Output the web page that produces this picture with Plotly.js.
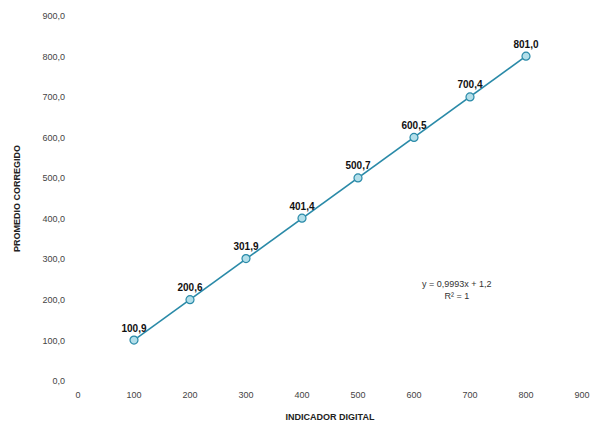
<!DOCTYPE html>
<html><head><meta charset="utf-8">
<script src="https://cdn.plot.ly/plotly-3.0.1.min.js"></script>
<style>html,body{margin:0;padding:0;background:#fff}#c{width:592px;height:430px}</style>
</head><body><div id="c"></div>
<script>
const indicador = [100, 200, 300, 400, 500, 600, 700, 800];
const promedio = [100.9, 200.6, 301.9, 401.4, 500.7, 600.5, 700.4, 801.0];
const pointLabels = ["100,9", "200,6", "301,9", "401,4", "500,7", "600,5", "700,4", "801,0"];
const yTickVals = [0, 100, 200, 300, 400, 500, 600, 700, 800, 900];
const yTickText = ["0,0", "100,0", "200,0", "300,0", "400,0", "500,0", "600,0", "700,0", "800,0", "900,0"];
const xTickVals = [0, 100, 200, 300, 400, 500, 600, 700, 800, 900];
const equationText = "y = 0,9993x + 1,2<br>R² = 1";
const equationPos = [677, 224];

const font = "Liberation Sans, Arial, sans-serif";
const trace = {
  x: indicador, y: promedio, type: "scatter", mode: "lines+markers+text",
  text: pointLabels.map(t => "<b>" + t + "</b>"), textposition: "top center",
  textfont: {family: font, size: 10, color: "#111"},
  line: {color: "#2a8aa8", width: 1.6},
  marker: {symbol: "circle", size: 8, color: "#b3dfea", line: {color: "#2a8aa8", width: 1.2}},
  cliponaxis: false, hoverinfo: "none"
};
const layout = {
  width: 592, height: 430,
  margin: {l: 78, r: 10, t: 16, b: 49},
  paper_bgcolor: "#fff", plot_bgcolor: "#fff",
  showlegend: false,
  font: {family: font, size: 9, color: "#333"},
  xaxis: {range: [0, 900], tickvals: xTickVals, showgrid: false, zeroline: false, showline: false,
    ticks: "", ticklabelstandoff: 7, tickfont: {size: 9, color: "#444"},
    title: {text: "<b>INDICADOR DIGITAL</b>", font: {size: 9, color: "#222"}, standoff: 14}},
  yaxis: {range: [0, 900], tickvals: yTickVals, ticktext: yTickText, showgrid: false, zeroline: false, showline: false,
    ticks: "", ticklabelstandoff: 12, tickfont: {size: 9, color: "#444"},
    title: {text: "<b>PROMEDIO CORREGIDO</b>", font: {size: 9, color: "#222"}, standoff: 20}},
  annotations: [{x: equationPos[0], y: equationPos[1], xref: "x", yref: "y", text: equationText,
    showarrow: false, align: "center", font: {size: 9, color: "#333"}}]
};
Plotly.newPlot("c", [trace], layout, {staticPlot: true});
</script></body></html>
